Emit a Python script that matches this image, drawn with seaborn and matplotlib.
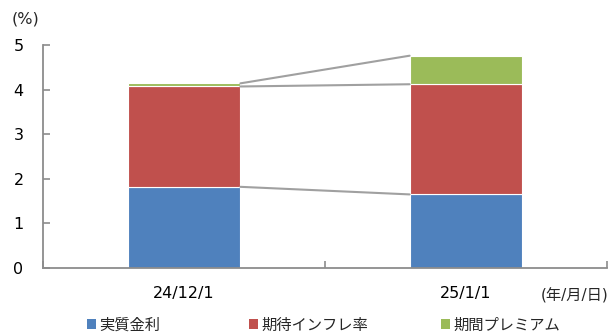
import matplotlib
matplotlib.use("Agg")
from matplotlib import pyplot as plt
from matplotlib.patches import Patch
import seaborn as sns
import pandas as pd

dates = ["24/12/1", "25/1/1"]
real_rate = [1.82, 1.65]
infl_exp = [2.25, 2.47]
term_prem = [0.07, 0.64]
series_names = ["実質金利", "期待インフレ率", "期間プレミアム"]
colors = ["#4F81BD", "#C0504D", "#9BBB59"]

sns.set_theme(style="white")
plt.rcParams['font.family'] = ['DejaVu Sans', 'Noto Sans CJK JP']

df = pd.DataFrame({"date": dates, "real": real_rate, "infl": infl_exp, "prem": term_prem})
df["b2"] = df["real"] + df["infl"]

fig = plt.figure(figsize=(6.15, 3.33), dpi=100)
ax = fig.add_axes([43 / 615, 65 / 333, 564 / 615, 223 / 333])

w = 0.4
sns.barplot(data=df, x="date", y="real", color=colors[0], width=w, saturation=1,
            edgecolor="white", linewidth=0.8, ax=ax)
sns.barplot(data=df, x="date", y="infl", bottom=df["real"], color=colors[1], width=w,
            saturation=1, edgecolor="white", linewidth=0.8, ax=ax)
sns.barplot(data=df, x="date", y="prem", bottom=df["b2"], color=colors[2], width=w,
            saturation=1, edgecolor="white", linewidth=0.8, ax=ax)

# connecting lines between the bar segments
tops = [df["real"], df["b2"], df["b2"] + df["prem"]]
for t in tops:
    ax.plot([0 + w / 2, 1 - w / 2], [t[0], t[1]], color="#A0A0A0", lw=1.5, zorder=1)

ax.set_xlim(-0.5, 1.5)
ax.set_ylim(0, 5)
ax.set_yticks([0, 1, 2, 3, 4, 5])
ax.set_xlabel("")
ax.set_ylabel("")
sns.despine(ax=ax)
for s in ["left", "bottom"]:
    ax.spines[s].set_color("#8C8C8C")
    ax.spines[s].set_linewidth(1.3)
ax.spines["left"].set_bounds(0, 5)
ax.tick_params(axis="y", which="major", left=True, direction="in", length=5, width=1.2,
               color="#8C8C8C", pad=14, labelsize=11.5, labelcolor="black")
ax.set_xticks([-0.5, 0.5, 1.5], minor=True)
ax.tick_params(axis="x", which="major", length=0, pad=13, labelsize=11.5, labelcolor="black")
ax.tick_params(axis="x", which="minor", bottom=True, direction="in", length=5, width=1.2,
               color="#8C8C8C")

fig.text(12 / 615, 1 - 18.5 / 333, "(%)", fontsize=11.5, va="center", ha="left")
fig.text(541 / 615, 1 - 296 / 333, "(年/月/日)", fontsize=11, va="center", ha="left")

# legend entries placed one by one like the original
leg_x = [87, 249, 441]
for name, c, x in zip(series_names, colors, leg_x):
    leg = fig.legend([Patch(facecolor=c, edgecolor="none")], [name], loc="center left",
                     bbox_to_anchor=(x / 615, 1 - 325 / 333), frameon=False, fontsize=11,
                     handlelength=0.6, handleheight=0.6, handletextpad=0.2,
                     borderpad=0, borderaxespad=0)

fig.savefig("out.png", dpi=100)
